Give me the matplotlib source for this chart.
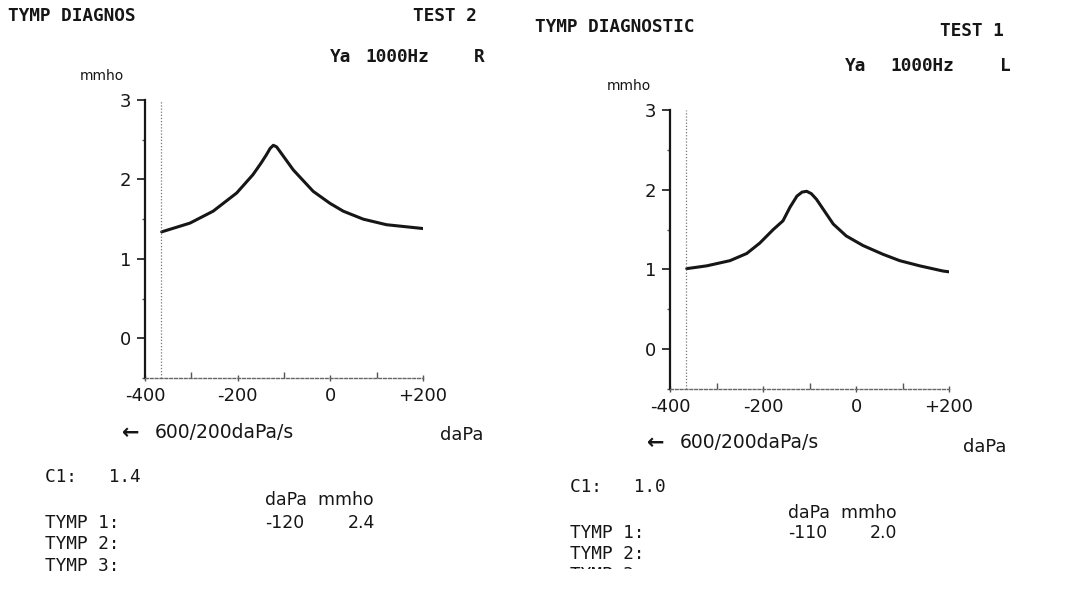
import matplotlib.pyplot as plt
from matplotlib.ticker import MultipleLocator, FixedLocator
from matplotlib.patches import Rectangle

# Right ear (TEST 2) tympanogram
pressure_r = [-364, -303, -253, -202, -167, -149, -138, -130, -123, -116, -106, -80, -37, -1, 28, 71, 121, 203]
admit_r = [1.34, 1.45, 1.60, 1.83, 2.06, 2.21, 2.31, 2.39, 2.43, 2.41, 2.33, 2.12, 1.85, 1.70, 1.60, 1.50, 1.43, 1.38]

# Left ear (TEST 1) tympanogram
pressure_l = [-364, -321, -271, -235, -207, -178, -157, -142, -127, -116, -106, -96, -85, -49, -21, 15, 58, 94, 137, 187, 200]
admit_l = [1.01, 1.045, 1.11, 1.20, 1.33, 1.50, 1.61, 1.78, 1.92, 1.97, 1.98, 1.95, 1.88, 1.57, 1.42, 1.30, 1.19, 1.11, 1.045, 0.98, 0.97]

x_ticks = [-400, -200, 0, 200]
x_ticklabels = ["-400", "-200", "0", "+200"]
y_ticks = [0, 1, 2, 3]
start_pressure = -365

c1_r, peak_dapa_r, peak_mmho_r = "1.4", "-120", "2.4"
c1_l, peak_dapa_l, peak_mmho_l = "1.0", "-110", "2.0"

W, H = 1075, 589
ink = "#161616"
mono = "DejaVu Sans Mono"
sans = "DejaVu Sans"

fig = plt.figure(figsize=(W / 100, H / 100), dpi=100)


def px(x, y):
    return x / W, 1 - y / H


def draw_panel(rect, xs, ys):
    ax = fig.add_axes(rect)
    ax.plot(xs, ys, color=ink, lw=2.2, solid_capstyle="round", solid_joinstyle="round")
    ax.plot([start_pressure, start_pressure], [-0.5, 3.0], color="#777777", lw=0.9, ls=(0, (1, 1.5)))
    ax.set_xlim(-400, 200)
    ax.set_ylim(-0.5, 3.0)
    for s in ["top", "right"]:
        ax.spines[s].set_visible(False)
    ax.spines["left"].set_color(ink)
    ax.spines["left"].set_linewidth(1.6)
    ax.spines["bottom"].set_color("#666666")
    ax.spines["bottom"].set_linewidth(1.0)
    ax.spines["bottom"].set_linestyle((0, (2, 1.5)))
    ax.xaxis.set_major_locator(FixedLocator(x_ticks))
    ax.set_xticklabels(x_ticklabels)
    ax.xaxis.set_minor_locator(MultipleLocator(100))
    ax.yaxis.set_major_locator(FixedLocator(y_ticks))
    ax.yaxis.set_minor_locator(MultipleLocator(0.5))
    ax.tick_params(axis="y", which="major", direction="out", length=6, width=1.2,
                   colors=ink, labelsize=13, pad=4)
    ax.tick_params(axis="y", which="minor", direction="out", length=2.5, width=1.0, colors="#555555")
    ax.tick_params(axis="x", which="major", direction="inout", length=5, width=1.0,
                   colors="#555555", labelcolor=ink, labelsize=13, pad=4)
    ax.tick_params(axis="x", which="minor", direction="in", length=4, width=1.0, colors="#555555")
    for lab in ax.get_xticklabels() + ax.get_yticklabels():
        lab.set_family(sans)
    return ax


draw_panel([145 / W, 211 / H, 278 / W, 278 / H], pressure_r, admit_r)
draw_panel([670 / W, 200 / H, 279 / W, 279 / H], pressure_l, admit_l)


def txt(x, y, s, fam=mono, size=12.8, weight="normal", ha="left"):
    fig.text(*px(x, y), s, family=fam, fontsize=size, fontweight=weight,
             color=ink, ha=ha, va="center")


# Left printout (TEST 2, right ear)
txt(8, 16, "TYMP DIAGNOS", weight="bold")
txt(413, 16, "TEST 2", weight="bold")
txt(330, 57, "Ya", weight="bold")
txt(365, 57, "1000Hz", weight="bold")
txt(474, 57, "R", weight="bold")
txt(80, 76, "mmho", fam=sans, size=10)
txt(122, 433, "\u2190", fam=sans, size=15, weight="bold")
txt(155, 433, "600/200daPa/s", fam=sans, size=13.5)
txt(440, 435, "daPa", fam=sans, size=12.8)
txt(45, 477, "C1:   " + c1_r)
txt(265, 500, "daPa  mmho", fam=sans, size=12.4)
txt(45, 523, "TYMP 1:")
txt(265, 523, peak_dapa_r, fam=sans, size=12.4)
txt(375, 523, peak_mmho_r, fam=sans, size=12.4, ha="right")
txt(45, 544, "TYMP 2:")
txt(45, 566, "TYMP 3:")

# Right printout (TEST 1, left ear)
txt(535, 27, "TYMP DIAGNOSTIC", weight="bold")
txt(940, 31, "TEST 1", weight="bold")
txt(845, 66, "Ya", weight="bold")
txt(890, 66, "1000Hz", weight="bold")
txt(1000, 66, "L", weight="bold")
txt(607, 86, "mmho", fam=sans, size=10)
txt(647, 443, "\u2190", fam=sans, size=15, weight="bold")
txt(680, 443, "600/200daPa/s", fam=sans, size=13.5)
txt(963, 447, "daPa", fam=sans, size=12.8)
txt(570, 487, "C1:   " + c1_l)
txt(788, 513, "daPa  mmho", fam=sans, size=12.4)
txt(570, 533, "TYMP 1:")
txt(788, 533, peak_dapa_l, fam=sans, size=12.4)
txt(897, 533, peak_mmho_l, fam=sans, size=12.4, ha="right")
txt(570, 554, "TYMP 2:")
txt(570, 575, "TYMP 3:")

# the scan is cut off just below the last lines
fig.patches.append(Rectangle((0, 0), 0.5, 1 - 572 / H, transform=fig.transFigure,
                             facecolor="white", edgecolor="none", zorder=10))
fig.patches.append(Rectangle((0.5, 0), 0.5, 1 - 569 / H, transform=fig.transFigure,
                             facecolor="white", edgecolor="none", zorder=10))

fig.savefig("out.png", dpi=100, facecolor="white")
